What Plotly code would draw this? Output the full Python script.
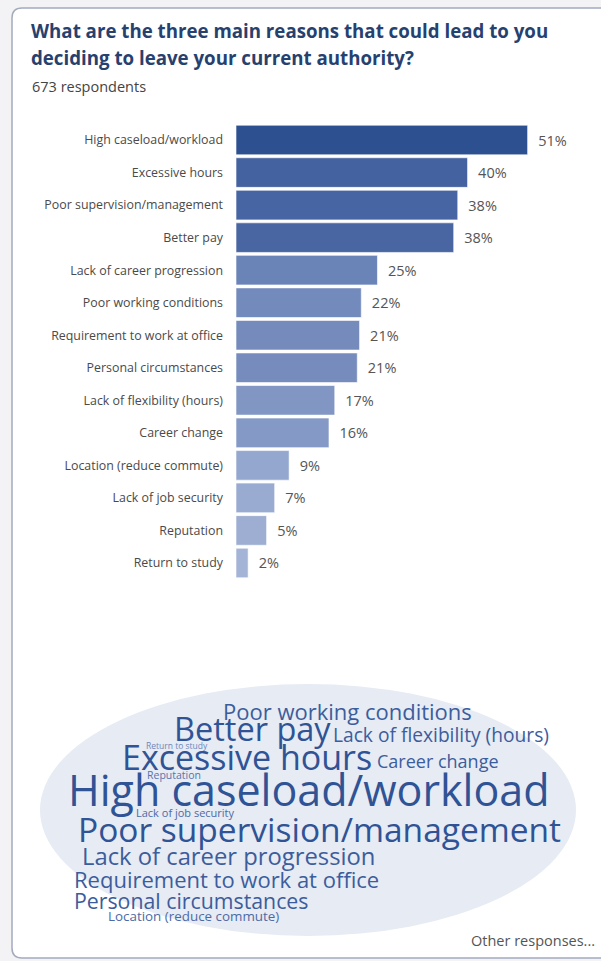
import plotly.graph_objects as go

# Survey question: reasons for leaving, share of respondents (%)
reasons = [
    "High caseload/workload",
    "Excessive hours",
    "Poor supervision/management",
    "Better pay",
    "Lack of career progression",
    "Poor working conditions",
    "Requirement to work at office",
    "Personal circumstances",
    "Lack of flexibility (hours)",
    "Career change",
    "Location (reduce commute)",
    "Lack of job security",
    "Reputation",
    "Return to study",
]
share_pct = [50.5, 40.1, 38.4, 37.7, 24.5, 21.7, 21.4, 21.0, 17.1, 16.1, 9.2, 6.7, 5.3, 2.1]

title_lines = ["What are the three main reasons that could lead to you",
               "deciding to leave your current authority?"]
respondents_text = "673 respondents"
other_text = "Other responses..."

W, H = 601, 961
FONT = "Open Sans"


def px(x):
    return x / W


def py(y):
    return 1 - y / H


fig = go.Figure()

fig.add_trace(go.Bar(
    y=reasons,
    x=share_pct,
    orientation="h",
    marker=dict(
        color=share_pct,
        colorscale=[[0.0, "#a9b8d9"], [0.3, "#869bc6"], [0.45, "#6f87ba"],
                    [0.72, "#4b68a5"], [1.0, "#2c4f8f"]],
        cmin=0, cmax=51,
        line=dict(color="rgba(255,255,255,0.6)", width=1),
    ),
    texttemplate="  %{x:.0f}%",
    textposition="outside",
    textfont=dict(family=FONT, size=14.5, color="#555555"),
    constraintext="none",
    cliponaxis=False,
    hoverinfo="skip",
))

# card background with rounded left corners
r = 10
x0c, x1c, y0c, y1c = 12, 640, 8, 958
card_path = (
    f"M {px(x0c)},{py(y0c + r)} Q {px(x0c)},{py(y0c)} {px(x0c + r)},{py(y0c)} "
    f"L {px(x1c)},{py(y0c)} L {px(x1c)},{py(y1c)} L {px(x0c + r)},{py(y1c)} "
    f"Q {px(x0c)},{py(y1c)} {px(x0c)},{py(y1c - r)} Z"
)
shapes = [
    dict(type="path", path=card_path, xref="paper", yref="paper",
         fillcolor="white", line=dict(color="#a3abbe", width=1.5), layer="below"),
    dict(type="circle", xref="paper", yref="paper",
         x0=px(40), x1=px(576), y0=py(936), y1=py(684),
         fillcolor="#e6ebf4", line=dict(width=0), layer="below"),
]

annotations = []
# heading
for i, line in enumerate(title_lines):
    annotations.append(dict(
        text=f"<b>{line}</b>", x=px(29), y=py(31 + i * 27), xref="paper", yref="paper",
        xanchor="left", yanchor="middle", showarrow=False,
        font=dict(family=FONT, size=18.7, color="#27416f"),
    ))
annotations.append(dict(
    text=respondents_text, x=px(30), y=py(87), xref="paper", yref="paper",
    xanchor="left", yanchor="middle", showarrow=False,
    font=dict(family=FONT, size=14.5, color="#444444"),
))

# word cloud layout: centre (px), font size, colour for each reason
cloud_layout = {
    "Poor working conditions": (347, 711, 22, "#3c5d9c"),
    "Better pay": (252, 728, 32.5, "#2f5394"),
    "Lack of flexibility (hours)": (441, 734, 19.2, "#3c5d9c"),
    "Return to study": (177, 745, 8.5, "#6d87bb"),
    "Excessive hours": (247, 757, 34, "#2f5394"),
    "Career change": (438, 761, 18, "#3c5d9c"),
    "Reputation": (174, 775, 10.5, "#5673ad"),
    "High caseload/workload": (309, 789, 43, "#2f5394"),
    "Lack of job security": (185, 812, 11, "#4d6aa6"),
    "Poor supervision/management": (319, 829, 33.5, "#2f5394"),
    "Lack of career progression": (228, 856, 23.8, "#3c5d9c"),
    "Requirement to work at office": (226, 879, 22, "#3c5d9c"),
    "Personal circumstances": (191, 900, 21.3, "#3c5d9c"),
    "Location (reduce commute)": (193, 916, 13.4, "#4d6aa6"),
}
for word in reasons:
    cx, cy, size, colour = cloud_layout[word]
    annotations.append(dict(
        text=word, x=px(cx), y=py(cy), xref="paper", yref="paper",
        xanchor="center", yanchor="middle", showarrow=False,
        font=dict(family=FONT, size=size, color=colour),
    ))

annotations.append(dict(
    text=other_text, x=px(597), y=py(940), xref="paper", yref="paper",
    xanchor="right", yanchor="middle", showarrow=False,
    font=dict(family=FONT, size=14.5, color="#555555"),
))

fig.update_layout(
    width=W, height=H,
    margin=dict(l=0, r=0, t=0, b=0),
    paper_bgcolor="#f3f3f5",
    plot_bgcolor="rgba(0,0,0,0)",
    showlegend=False,
    bargap=0.09,
    shapes=shapes,
    annotations=annotations,
    xaxis=dict(domain=[px(236), px(590)], range=[0, 61.3], visible=False, fixedrange=True),
    yaxis=dict(
        domain=[py(579.25), py(123.75)],
        autorange="reversed",
        showgrid=False, zeroline=False, showline=False,
        ticks="", ticklabelstandoff=12,
        tickfont=dict(family=FONT, size=12.4, color="#4a4a4a"),
        fixedrange=True,
    ),
)

fig.write_html("out.html")
